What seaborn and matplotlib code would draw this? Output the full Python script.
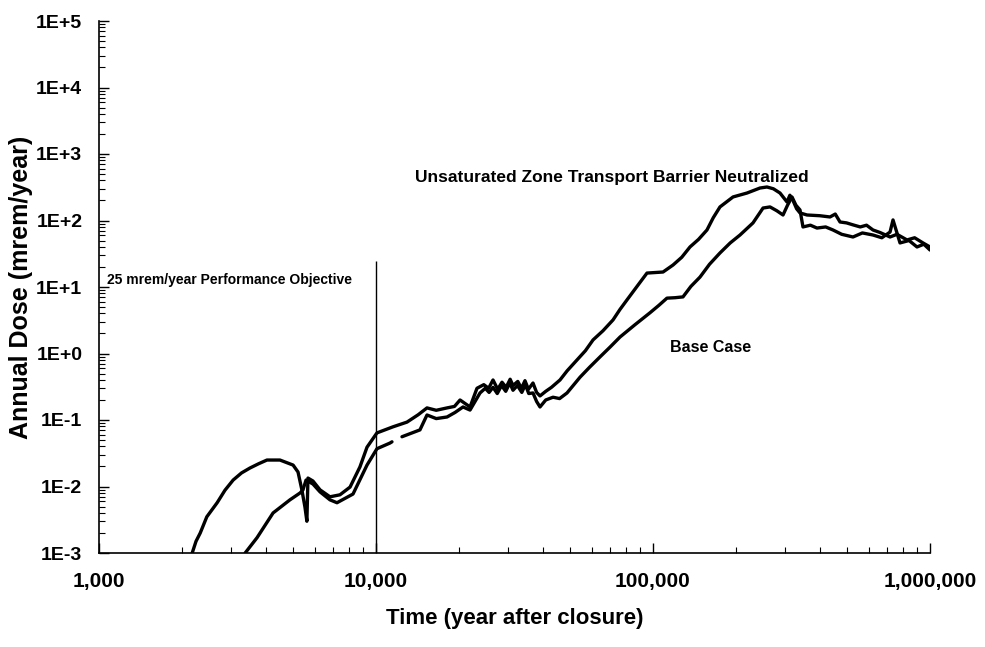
import numpy as np
import pandas as pd
import matplotlib
matplotlib.use("Agg")
import matplotlib.pyplot as plt
from matplotlib.ticker import FixedLocator, FuncFormatter, LogLocator, NullFormatter
import seaborn as sns

# Annual dose histories (years after closure, mrem/year)
neutral_time = [2170, 2240, 2320, 2450, 2670, 2850, 3050, 3270, 3510, 3770, 4040, 4500,
                5020, 5230, 5400, 5540, 5630, 5680, 5920, 6280, 6820, 7410, 8060, 8750,
                9280, 10080, 11520, 12940, 14200, 15280, 16500, 18050, 19200, 20110, 21850,
                23150, 24500, 25500, 26450, 27500, 28500, 29500, 30500, 31230, 32500, 33500,
                34500, 35500, 36880, 38000, 39090, 41000, 43000, 46160, 49000, 53170, 57000,
                60750, 66000, 71730, 76000, 80560, 88000, 95120, 108700, 118100, 127000,
                136000, 146000, 156600, 165000, 174500, 194500, 218500, 243400, 257900,
                272000, 287400, 304600, 312000, 320200, 330000, 339400, 359800, 400000,
                435500, 455000, 473300, 500000, 527200, 560000, 590000, 622600, 660000,
                717300, 760000, 826000, 880000, 943400, 1000000]
neutral_dose = [0.001, 0.0015, 0.0020, 0.0035, 0.0057, 0.0088, 0.0125, 0.016, 0.019, 0.022,
                0.025, 0.025, 0.021, 0.0165, 0.0089, 0.0049, 0.0030, 0.0134, 0.0121, 0.0089,
                0.0070, 0.0075, 0.0098, 0.0197, 0.039, 0.064, 0.079, 0.093, 0.12, 0.152, 0.14,
                0.152, 0.16, 0.20, 0.157, 0.30, 0.34, 0.30, 0.40, 0.29, 0.37, 0.31, 0.41, 0.33,
                0.38, 0.30, 0.39, 0.29, 0.36, 0.26, 0.23, 0.27, 0.31, 0.40, 0.55, 0.80, 1.1,
                1.6, 2.2, 3.2, 4.6, 6.4, 10.5, 16.2, 16.8, 21.4, 28, 40, 52, 72, 110, 160, 226,
                259, 308, 319, 300, 259, 190, 240, 200, 150, 130, 121, 118, 113, 125, 95, 92,
                86, 80, 85, 72, 66, 56.5, 62, 51, 55, 46, 40]

# Base case is plotted in two pieces (short gap near 12,000 years)
base_time_a = [3370, 3720, 4250, 4890, 5320, 5450, 5590, 5920, 6280, 6820, 7230, 8260,
               9280, 10080, 11230, 11420]
base_dose_a = [0.001, 0.0017, 0.0040, 0.0063, 0.0080, 0.0089, 0.0125, 0.0109, 0.0083,
               0.0063, 0.0057, 0.0077, 0.021, 0.037, 0.045, 0.047]
base_time_b = [12410, 14410, 15280, 16500, 18050, 19300, 20610, 21850, 23740, 24800, 25600,
               26450, 27400, 28400, 29400, 30400, 31230, 32400, 33600, 34600, 35600, 36880,
               38000, 39090, 41000, 43550, 46000, 48930, 51500, 54520, 59000, 64390, 70000,
               76030, 86000, 97540, 105000, 112300, 120000, 128300, 137000, 147800, 160000,
               174500, 190000, 206100, 229600, 249600, 264500, 280000, 294700, 306000,
               317600, 328000, 339400, 347900, 370000, 390800, 420000, 446500, 480000,
               527200, 570000, 622600, 670000, 717300, 735300, 779400, 840000, 897600,
               950000, 1000000]
base_dose_b = [0.056, 0.071, 0.119, 0.105, 0.111, 0.13, 0.157, 0.141, 0.255, 0.30, 0.26,
               0.31, 0.25, 0.33, 0.27, 0.36, 0.28, 0.33, 0.26, 0.34, 0.25, 0.255, 0.19, 0.157,
               0.20, 0.22, 0.21, 0.255, 0.33, 0.44, 0.62, 0.89, 1.25, 1.77, 2.7, 4.1, 5.3,
               6.8, 6.9, 7.1, 10.2, 14.1, 22, 32.5, 46, 60.5, 92, 154, 160, 140, 121, 170,
               226, 170, 144, 80, 85, 77, 80, 72, 62, 56.5, 65, 60.5, 55, 67, 102, 46, 50,
               40, 44, 36]

objective_time = 10000
objective_dose = 25

frames = [
    pd.DataFrame({"time": neutral_time, "dose": neutral_dose,
                  "case": "Unsaturated Zone Transport Barrier Neutralized", "piece": 0}),
    pd.DataFrame({"time": base_time_a, "dose": base_dose_a, "case": "Base Case", "piece": 1}),
    pd.DataFrame({"time": base_time_b, "dose": base_dose_b, "case": "Base Case", "piece": 2}),
]
df = pd.concat(frames, ignore_index=True)

sns.set_style("ticks")
plt.rcParams["font.family"] = ["Liberation Sans", "DejaVu Sans"]
plt.rcParams["text.color"] = "black"
plt.rcParams["axes.labelcolor"] = "black"
plt.rcParams["xtick.color"] = "black"
plt.rcParams["ytick.color"] = "black"

fig = plt.figure(figsize=(9.85, 6.47), dpi=100)
ax = fig.add_axes([99 / 985, 94 / 647, 831 / 985, 532 / 647])

sns.lineplot(data=df, x="time", y="dose", hue="case", units="piece", estimator=None,
             sort=False, palette={"Base Case": "black",
                                  "Unsaturated Zone Transport Barrier Neutralized": "black"},
             linewidth=2.4, legend=False, ax=ax)

ax.vlines(objective_time, 1e-3, objective_dose, color="black", linewidth=1.0)

ax.set_xscale("log")
ax.set_yscale("log")
ax.set_xlim(1000, 1e6)
ax.set_ylim(1e-3, 1e5)

ax.xaxis.set_major_locator(FixedLocator([1e3, 1e4, 1e5, 1e6]))
ax.xaxis.set_major_formatter(FuncFormatter(lambda v, p: f"{int(round(v)):,}"))
ax.yaxis.set_major_locator(FixedLocator([10.0 ** k for k in range(-3, 6)]))
ax.yaxis.set_major_formatter(FuncFormatter(lambda v, p: f"1E{int(round(np.log10(v))):+d}"))
for axis in (ax.xaxis, ax.yaxis):
    axis.set_minor_locator(LogLocator(base=10, subs=np.arange(2, 10), numticks=20))
    axis.set_minor_formatter(NullFormatter())

ax.tick_params(which="major", direction="in", length=7, width=1.0, color="black")
ax.tick_params(which="minor", direction="in", length=4, width=0.8, color="black")
ax.tick_params(axis="x", which="major", pad=14, labelsize=15, labelcolor="black")
ax.tick_params(axis="y", which="major", pad=12, labelsize=14, labelcolor="black")
for lab in ax.get_xticklabels() + ax.get_yticklabels():
    lab.set_fontweight("bold")

sns.despine(ax=ax)
for s in ("left", "bottom"):
    ax.spines[s].set_linewidth(1.2)
    ax.spines[s].set_color("black")

ax.set_xlabel("Time (year after closure)", fontsize=16, fontweight="bold", labelpad=12,
              color="black")
ax.set_ylabel("Annual Dose (mrem/year)", fontsize=18, fontweight="bold", labelpad=2,
              color="black")

ax.text(13830, 436, "Unsaturated Zone Transport Barrier Neutralized", fontsize=12.5,
        fontweight="bold", ha="left", va="center", color="black")
ax.text(115200, 1.21, "Base Case", fontsize=11.5, fontweight="bold", ha="left", va="center",
        color="black")
ax.text(1069, 12.7, "25 mrem/year Performance Objective", fontsize=10, fontweight="bold",
        ha="left", va="center", color="black")

fig.savefig("out.png", dpi=100)
